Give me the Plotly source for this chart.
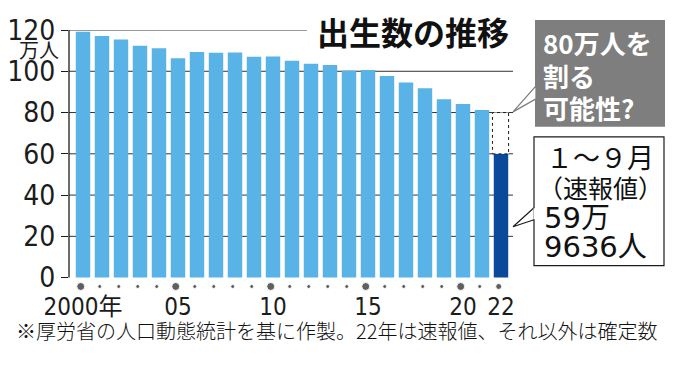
import plotly.graph_objects as go

# ---- data ----
years = list(range(2000, 2023))
births_10k = [119.1, 117.1, 115.4, 112.4, 111.1, 106.3, 109.3, 109.0, 109.1, 107.0,
              107.1, 105.1, 103.7, 103.0, 100.4, 100.6, 97.7, 94.6, 91.8, 86.5,
              84.1, 81.2, 59.9636]
threshold_10k = 80
y_ticks = [0, 20, 40, 60, 80, 100, 120]
x_tickvals = [2000, 2005, 2010, 2015, 2020, 2022]
x_ticktext = ["2000年", "05", "10", "15", "20", "22"]
title_text = "出生数の推移"
unit_text = "万人"
gray_lines = ["80万人を", "割る", "可能性?"]
white_lines = ["１～９月", "（速報値）", "59万", "9636人"]
footnote = "※厚労省の人口動態統計を基に作製。22年は速報値、それ以外は確定数"

# ---- styles ----
W, H = 680, 366
Y0PX, Y120PX = 278, 30          # pixel rows of 0 and 120
UPP = (Y0PX - Y120PX) / 120     # pixels per unit
YMIN = -6                       # extra room below zero for tick dots
ML, MR, MT = 69, 167, 30
PLOT_BOTTOM = Y0PX - YMIN * UPP
MB = H - PLOT_BOTTOM
PW, PH = W - ML - MR, PLOT_BOTTOM - MT
LIGHT = "#5AB3E6"
DARK = "#0B4A9B"
GRAY = "#7E7E7E"
INK = "#1C1C1C"
NARROW = "Liberation Sans Narrow, Arial Narrow, DejaVu Sans Condensed, Noto Sans CJK JP, sans-serif"
JP = "Noto Sans CJK JP, sans-serif"
WIDE = "DejaVu Sans, Noto Sans CJK JP, sans-serif"

def px(xp):
    return (xp - ML) / PW

def py(yp):
    return (PLOT_BOTTOM - yp) / PH

colors = [LIGHT] * (len(years) - 1) + [DARK]

fig = go.Figure()
fig.add_trace(go.Bar(x=years, y=births_10k, marker=dict(color=colors, line=dict(width=0)),
                     hoverinfo="skip"))
# tick dots under bars
dot_sizes = [8 if (y % 5 == 0) else (6 if y == years[-1] else 4) for y in years]
fig.add_trace(go.Scatter(x=[y - 0.12 for y in years], y=[-4.3] * len(years), mode="markers",
                         marker=dict(size=dot_sizes, color=INK, symbol="circle"),
                         cliponaxis=False, hoverinfo="skip"))

shapes = []
# y axis line (0..120) and gridlines
shapes.append(dict(type="line", xref="paper", yref="y", x0=0, x1=0, y0=0, y1=120,
                   line=dict(color=INK, width=1.3)))
for v in y_ticks[1:-1]:
    shapes.append(dict(type="line", xref="paper", yref="y", x0=0, x1=1, y0=v, y1=v,
                       line=dict(color="#333", width=1), layer="below"))
shapes.append(dict(type="line", xref="paper", yref="y", x0=0, x1=px(307), y0=120, y1=120,
                   line=dict(color="#333", width=1), layer="below"))
# dashed box for possible full-year value
shapes.append(dict(type="rect", xref="x", yref="y", x0=years[-1] - 0.45, x1=years[-1] + 0.4,
                   y0=births_10k[-1], y1=threshold_10k, fillcolor="white",
                   line=dict(color=INK, width=1, dash="dot")))
# gray callout
shapes.append(dict(type="rect", xref="paper", yref="paper", x0=px(535), x1=px(665),
                   y0=py(127), y1=py(20), fillcolor=GRAY, line=dict(width=0)))
shapes.append(dict(type="path", xref="paper", yref="paper",
                   path=f"M {px(536)} {py(86)} L {px(513)} {py(112)} L {px(536)} {py(99)} Z",
                   fillcolor="white", line=dict(color=GRAY, width=1.3)))
# white callout
shapes.append(dict(type="rect", xref="paper", yref="paper", x0=px(534), x1=px(664),
                   y0=py(266), y1=py(137), fillcolor="white", line=dict(color=INK, width=1.2)))
shapes.append(dict(type="path", xref="paper", yref="paper",
                   path=f"M {px(534)} {py(208)} L {px(513)} {py(227)} L {px(534)} {py(220)}",
                   line=dict(color=INK, width=1.2)))
shapes.append(dict(type="rect", xref="paper", yref="paper", x0=px(533.5), x1=px(535),
                   y0=py(219.5), y1=py(208.5), fillcolor="white", line=dict(width=0)))

ann = []
ann.append(dict(text=title_text, x=px(413), y=py(31), xref="paper", yref="paper",
                showarrow=False, font=dict(family=JP, size=32, color="#111", weight=700),
                xanchor="center", yanchor="middle"))
ann.append(dict(text=unit_text, x=px(61), y=py(50), xref="paper", yref="paper",
                showarrow=False, font=dict(family=JP, size=20, color=INK),
                xanchor="right", yanchor="middle"))
for t, yc in zip(gray_lines, [42.5, 76, 108]):
    ann.append(dict(text=t, x=px(541), y=py(yc), xref="paper", yref="paper",
                    showarrow=False, font=dict(family=JP, size=26, color="white", weight=700),
                    xanchor="left", yanchor="middle"))
wfonts = [(JP, 27, 544), (JP, 25, 536), (WIDE, 29, 542), (WIDE, 29, 542)]
for t, yc, (fam, sz, xl) in zip(white_lines, [157, 187, 218, 247], wfonts):
    ann.append(dict(text=t, x=px(xl), y=py(yc), xref="paper", yref="paper",
                    showarrow=False, font=dict(family=fam, size=sz, color="#111"),
                    xanchor="left", yanchor="middle"))
ann.append(dict(text=footnote, x=px(14), y=py(331), xref="paper", yref="paper",
                showarrow=False, font=dict(family=JP, size=20, color="#111", weight=300),
                xanchor="left", yanchor="middle"))

fig.update_layout(
    width=W, height=H, autosize=False,
    margin=dict(l=ML, r=MR, t=MT, b=MB, pad=0, autoexpand=False),
    paper_bgcolor="white", plot_bgcolor="white",
    showlegend=False, bargap=0.24,
    shapes=shapes, annotations=ann,
    xaxis=dict(range=[1999.263, 2022.632], showgrid=False, zeroline=False, showline=False,
               automargin=False,
               tickmode="array", tickvals=x_tickvals, ticktext=x_ticktext,
               ticks="", ticklen=0,
               tickfont=dict(family=NARROW, size=24, color=INK)),
    yaxis=dict(range=[YMIN, 120], showgrid=False, zeroline=False, showline=False,
               automargin=False, tickmode="array", tickvals=y_ticks,
               ticks="outside", ticklen=7, tickcolor=INK, tickwidth=1.2,
               tickfont=dict(family=NARROW, size=28, color=INK)),
)
fig.write_html("out.html", config={"displayModeBar": False},
               post_script="document.body.style.margin='0px';")
